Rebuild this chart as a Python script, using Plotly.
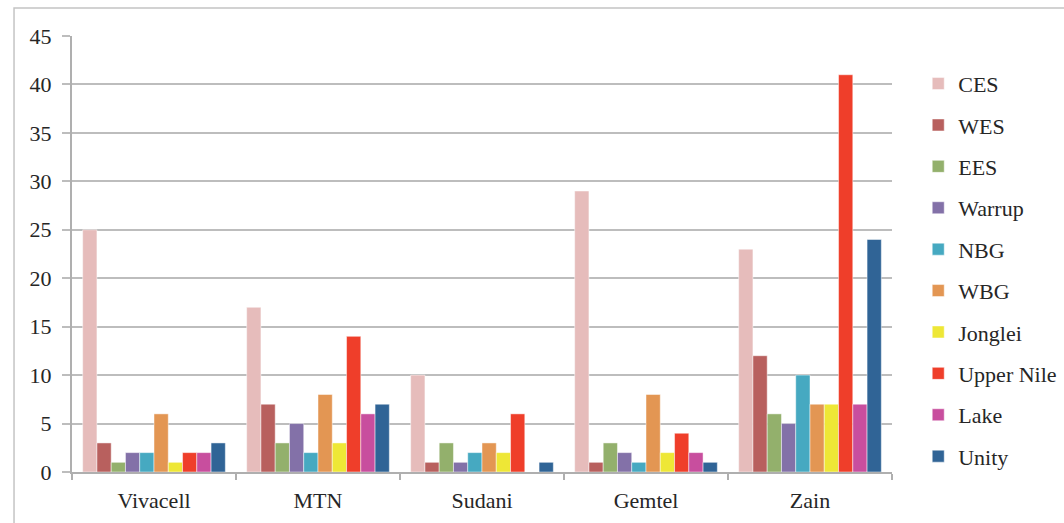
import plotly.graph_objects as go

# Operators on the x axis
operators = ["Vivacell", "MTN", "Sudani", "Gemtel", "Zain"]

# One series per state, values per operator
ces = [25, 17, 10, 29, 23]
wes = [3, 7, 1, 1, 12]
ees = [1, 3, 3, 3, 6]
warrup = [2, 5, 1, 2, 5]
nbg = [2, 2, 2, 1, 10]
wbg = [6, 8, 3, 8, 7]
jonglei = [1, 3, 2, 2, 7]
upper_nile = [2, 14, 6, 4, 41]
lake = [2, 6, 0, 2, 7]
unity = [3, 7, 1, 1, 24]

series_names = ["CES", "WES", "EES", "Warrup", "NBG", "WBG", "Jonglei",
                "Upper Nile", "Lake", "Unity"]
series_values = [ces, wes, ees, warrup, nbg, wbg, jonglei, upper_nile, lake, unity]
series_colors = ["#E6BCBB", "#B8605E", "#93B06C", "#8371A8", "#46A9C1",
                 "#E39653", "#EEE736", "#EF3E2A", "#C84E9E", "#306496"]

y_ticks = [0, 5, 10, 15, 20, 25, 30, 35, 40, 45]

FONT = "Liberation Serif"
GRID = "#BDBDBD"

fig = go.Figure()
for name, vals, color in zip(series_names, series_values, series_colors):
    fig.add_trace(go.Bar(
        x=operators, y=vals, name=name, legendgroup=name,
        marker=dict(color=color, line=dict(color="rgba(255,255,255,0.6)", width=0.8)),
    ))

fig.update_layout(
    width=1064, height=523,
    margin=dict(l=72, r=172, t=36, b=51, autoexpand=False),
    paper_bgcolor="white", plot_bgcolor="white",
    barmode="group", bargap=0.13, bargroupgap=0,
    font=dict(family=FONT, size=22, color="#262626"),
    showlegend=True,
    legend=dict(
        xref="container", x=0.863, xanchor="left",
        yref="container", y=0.88, yanchor="top",
        font=dict(family=FONT, size=22, color="#262626"),
        tracegroupgap=9.8, bgcolor="rgba(0,0,0,0)",
        maxheight=470,
    ),
    shapes=[dict(
        type="rect", xref="paper", yref="paper",
        x0=-0.0707, x1=1.3, y0=1.064, y1=-0.3,
        line=dict(color="#C4C4C4", width=1.5), fillcolor="rgba(0,0,0,0)",
        layer="below",
    )],
)

fig.update_xaxes(
    showline=True, linecolor="#AFAFAF", linewidth=2,
    ticks="outside", tickson="boundaries", ticklen=6, tickcolor="#AFAFAF",
    tickwidth=1.5, showgrid=False, ticklabelstandoff=8,
)
fig.update_yaxes(
    range=[0, 45], tickvals=y_ticks,
    showline=True, linecolor="#AFAFAF", linewidth=2,
    showgrid=True, gridcolor=GRID, gridwidth=1.5,
    ticks="outside", ticklen=8, tickcolor=GRID, tickwidth=1.5,
    zeroline=False, ticklabelstandoff=6,
)

fig.write_html("out.html")
